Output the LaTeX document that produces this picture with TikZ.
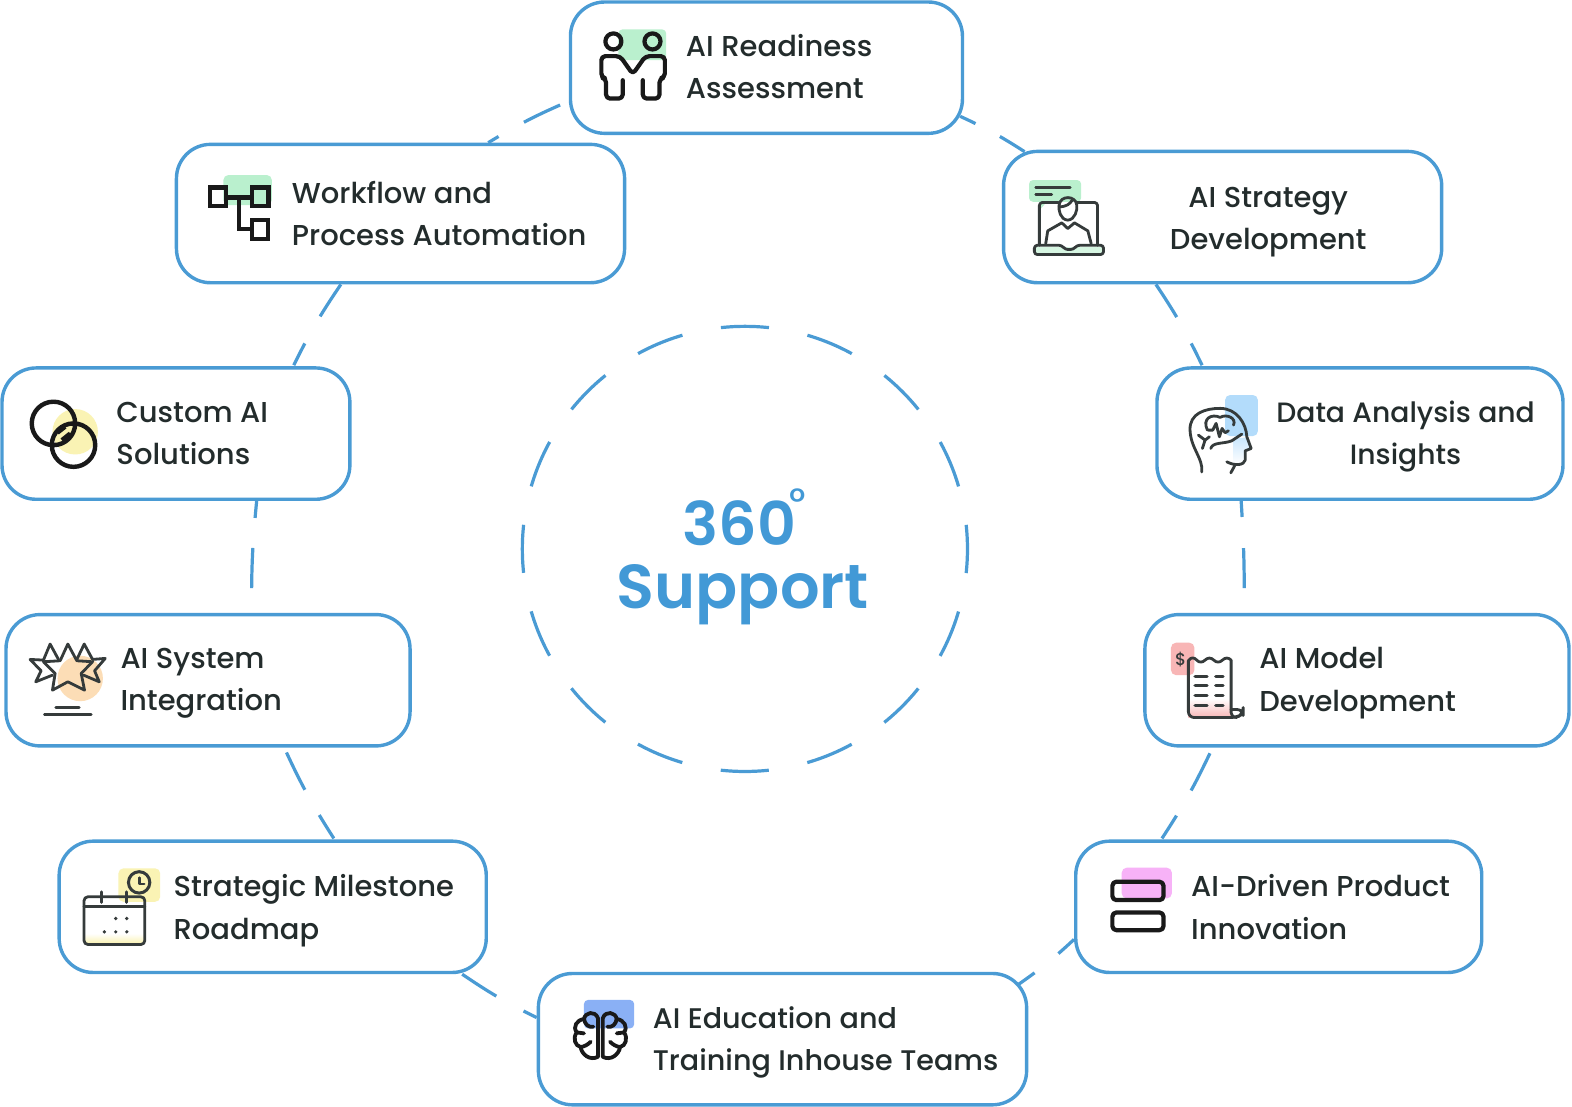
\documentclass[tikz,border=0pt]{standalone}
\usepackage{fontspec}
\setmainfont{Poppins}[UprightFont=* Medium,FakeStretch=1.008]
\newfontfamily\bigf{Poppins}[UprightFont=* SemiBold]
\usetikzlibrary{calc}
\definecolor{ringblue}{HTML}{4A9BD4}
\definecolor{headblue}{HTML}{4299D6}
\definecolor{ink}{HTML}{232C2C}
\definecolor{iconk}{HTML}{353B3B}
\definecolor{mint}{HTML}{BAF0CE}
\definecolor{sky}{HTML}{B3DCFB}
\definecolor{rose}{HTML}{F8B6B6}
\definecolor{peach}{HTML}{FCDDB6}
\definecolor{lemon}{HTML}{FAF3B4}
\definecolor{cobalt}{HTML}{8AB0F5}
\definecolor{orchid}{HTML}{F7B2F7}
\newcommand{\st}{\vphantom{Ayg}}
\tikzset{
  box/.style={draw=ringblue,line width=3.4pt,fill=white,rounded corners=34pt,minimum height=131pt,inner sep=0pt},
  conn/.style={draw=ringblue,line width=3.2pt},
  lbl/.style={font=\fontsize{28.7}{42}\selectfont,text=ink,inner sep=0pt,align=left,anchor=west},
  lblc/.style={font=\fontsize{28.7}{42}\selectfont,text=ink,inner sep=0pt,align=center},
  icon/.style={x=0.3333pt,y=-0.3333pt,line join=round,line cap=round},
  thinline/.style={draw=iconk,line width=2.8pt},
}
\begin{document}
\begin{tikzpicture}[x=1pt,y=-1pt]
\useasboundingbox (0,0) rectangle (1568,1104);
\node[box,minimum width=391pt] (n1) at (764.5,67.5) {};
\node[box,minimum width=437pt] (n2) at (1219.5,216.5) {};
\node[box,minimum width=405pt] (n3) at (1356.5,432.5) {};
\node[box,minimum width=423pt] (n4) at (1353.5,678.5) {};
\node[box,minimum width=405pt] (n5) at (1275.5,904.5) {};
\node[box,minimum width=487pt] (n6) at (780.5,1036.5) {};
\node[box,minimum width=426pt] (n7) at (272,904.5) {};
\node[box,minimum width=403pt] (n8) at (207.5,678.5) {};
\node[box,minimum width=347pt] (n9) at (175.5,432.5) {};
\node[box,minimum width=447pt,minimum height=138pt] (n10) at (399.5,213) {};
% connectors
\draw[conn,dash pattern=on 12pt off 29pt on 40pt off 40pt] ($(n10.north)+(87.5,0)$) to[bend left=4] ($(n1.west)+(0,33.5)$);
\draw[conn,dash pattern=on 17pt off 27.5pt on 40pt off 9pt] ($(n1.east)+(-4,48.5)$) to[bend left=4] ($(n2.north)+(-197.5,2)$);
\draw[conn,dash pattern=on 38.6pt off 30pt on 40pt off 9pt] ($(n2.south)+(-66.5,0)$) to[bend left=4] ($(n3.north)+(-157.5,-1)$);
\draw[conn,dash pattern=on 16pt off 31pt on 40pt off 40pt] ($(n3.south)+(-118.5,0)$) to[bend left=2] ($(n4.north)+(-112.5,0)$);
\draw[conn,dash pattern=on 27pt off 29pt on 41.6pt off 40pt] ($(n5.north)+(-116.5,-1)$) to[bend right=4] ($(n4.south)+(-144,0)$);
\draw[conn,dash pattern=on 20pt off 30.6pt on 40pt off 9pt] ($(n6.east)+(-10,-54.5)$) to[bend right=4] ($(n5.west)+(0,32.5)$);
\draw[conn,dash pattern=on 40.5pt off 30.9pt on 40pt off 9pt] ($(n7.south)+(189,0)$) to[bend right=4] ($(n6.west)+(0,-21.5)$);
\draw[conn,dash pattern=on 27.5pt off 29pt on 41.5pt off 40pt] ($(n7.north)+(61,-1)$) to[bend left=4] ($(n8.south)+(76,0)$);
\draw[conn,dash pattern=on 17pt off 30pt on 40pt off 40pt] ($(n9.south)+(80.5,0)$) to[bend right=3] ($(n8.north)+(43.5,0)$);
\draw[conn,dash pattern=on 38pt off 31pt on 40pt off 9pt] ($(n10.south)+(-59.5,0)$) to[bend right=4] ($(n9.north)+(117.5,-1)$);
% central ring
\node[circle,draw=ringblue,line width=3.2pt,minimum size=444pt,inner sep=0pt,dash pattern=on 48pt off 39.18pt,dash phase=24pt] (ring) at (743,547.5) {};
\node[font=\bigf\fontsize{62}{63}\selectfont,text=headblue,inner sep=0pt,align=center] (core) at (741,561) {{\fontsize{60}{63}\selectfont\hspace*{-7pt}360}\\Support};
\node[font=\fontsize{38}{38}\selectfont,text=headblue,inner sep=0pt] (deg) at (796,501) {°};
% labels
\node[lbl] (t1) at (684,70.5) {\st AI Readiness\\\st Assessment};
\node[lblc] (t2) at (1265,221.5) {\st AI Strategy\\\st Development};
\node[lblc,font=\fontsize{27.9}{42}\selectfont] (t3) at (1402,435.5) {\st Data Analysis and\\\st Insights};
\node[lbl] (t4) at (1256,681.5) {\st AI Model\\\st Development};
\node[lbl] (t5) at (1188,908.5) {\st AI-Driven Product\\\st Innovation};
\node[lbl,font=\fontsize{28.3}{42}\selectfont] (t6) at (651,1040) {\st AI Education and\\\st Training Inhouse Teams};
\node[lbl] (t7) at (173,908.5) {\st Strategic Milestone\\\st Roadmap};
\node[lbl] (t8) at (120,681.5) {\st AI System\\\st Integration};
\node[lbl] (t9) at (116,436) {\st Custom AI\\\st Solutions};
\node[lbl] (t10) at (291,216.5) {\st Workflow and\\\st Process Automation};
% icon 1: people
\begin{scope}[shift={(568.5,0)},icon]
\fill[mint,rounded corners=4pt] (145,88) rectangle (288,180);
\draw[black!90,line width=4.2pt] (130,124) circle[radius=24] (247,124) circle[radius=24];
\draw[black!90,line width=4.2pt,rounded corners=4pt] (158,240)--(158,295)--(108,295)--(108,235)--(94,232)--(94,168)--(150,168)--(188,222)--(226,168)--(284,168)--(284,232)--(268,235)--(268,295)--(218,295)--(218,240);
\end{scope}
% icon 2: laptop
\begin{scope}[shift={(1002.4,159.6)},icon]
\fill[mint,rounded corners=4pt] (72,60) rectangle (228,125);
\fill[mint] (105,125)--(125,125)--(108,145)--cycle;
\draw[thinline] (92,82)--(195,82) (92,102)--(140,102);
\fill[mint!60] (92,260) rectangle (291,278);
\draw[thinline,rounded corners=3pt] (103,255)--(103,127)--(160,127) (215,127)--(277,127)--(277,255);
\draw[thinline,rounded corners=3pt] (88,255)--(170,255)--(180,268)--(205,268)--(215,255)--(295,255)--(295,283)--(88,283)--cycle;
\draw[thinline] (188,180) .. controls (165,178) and (160,150) .. (162,135) .. controls (165,105) and (212,105) .. (215,135) .. controls (217,150) and (210,178) .. (188,180);
\draw[thinline] (162,140) .. controls (185,140) and (195,130) .. (200,122);
\draw[thinline] (122,250)--(128,212)--(170,188)--(188,205)--(208,188)--(248,212)--(258,250);
\end{scope}
% icon 3: head
\begin{scope}[shift={(1167,379)},icon]
\fill[sky,rounded corners=5pt] (165,45) rectangle (263,168);
\shade[top color=sky!70,bottom color=white,draw=none] (190,175) -- (230,172) -- (240,205) -- (225,212) -- (225,240) -- (190,252) -- cycle;
\draw[thinline] (95,275) .. controls (100,235) and (62,205) .. (60,150) .. controls (58,100) and (105,85) .. (150,85) .. controls (200,85) and (228,130) .. (230,170) -- (243,205) -- (225,212) -- (225,240) .. controls (222,255) and (195,258) .. (170,245);
\draw[thinline] (195,254)--(182,278);
\draw[thinline] (112,150) .. controls (95,115) and (125,100) .. (150,112) .. controls (170,100) and (200,115) .. (190,135);
\draw[thinline] (115,150)--(128,150)--(138,130)--(148,170)--(156,145)--(165,158)--(175,152);
\draw[thinline] (122,205) .. controls (128,185) and (160,192) .. (185,182) -- (215,162);
\draw[thinline] (85,165)--(105,180)--(97,205) (105,180)--(118,170);
\end{scope}
% icon 4: receipt
\begin{scope}[shift={(1152,628.4)},icon]
\fill[rose,rounded corners=5pt] (48,38) rectangle (118,135);
\shade[top color=white,bottom color=rose] (100,205) rectangle (228,262);
\fill[white] (232,240) rectangle (258,258);
\draw[thinline,line join=round] (100,92) .. controls (108,80) and (118,82) .. (125,90) .. controls (132,98) and (142,98) .. (150,90) .. controls (158,82) and (168,82) .. (176,90) .. controls (184,98) and (194,98) .. (202,90) .. controls (210,82) and (220,82) .. (228,90) -- (228,238);
\draw[thinline,rounded corners=6pt] (100,92)--(100,262)--(245,262)--(264,250)--(264,238)--(228,238);
\draw[thinline] (228,238) .. controls (226,252) and (232,262) .. (245,262);
\draw[thinline,line width=3.2pt] (120,138)--(156,138) (182,138)--(204,138) (120,167)--(156,167) (182,167)--(204,167) (120,196)--(156,196) (182,196)--(204,196) (120,225)--(156,225) (182,225)--(204,225);
\node[font=\fontsize{17}{17}\selectfont,text=iconk,inner sep=0pt] (dollar) at (77,88) {\$};
\end{scope}
% icon 5: stars
\begin{scope}[shift={(15,628.4)},icon]
\fill[peach] (195,145) circle[radius=68];
\draw[thinline] (130,88)--(105,42)--(85,90)--(45,88)--(78,122)--(62,155)--(112,135);
\draw[thinline] (185,88)--(207,42)--(232,88)--(270,85)--(238,122)--(252,155)--(205,135);
\draw[thinline] (158,42)--(185,92)--(232,95)--(198,130)--(208,180)--(158,155)--(112,180)--(120,130)--(85,95)--(135,92)--cycle;
\draw[thinline] (122,232)--(192,232) (88,252)--(228,252);
\end{scope}
% icon 6: calendar
\begin{scope}[shift={(69.8,852.8)},icon]
\fill[lemon,rounded corners=5pt] (145,40) rectangle (270,140);
\shade[top color=white,bottom color=lemon] (46,235) rectangle (220,264);
\draw[thinline,rounded corners=4pt] (42,125) rectangle (224,268);
\draw[thinline] (42,155)--(224,155) (95,110)--(95,142) (170,110)--(170,142);
\draw[iconk,line width=3pt] (207,82) circle[radius=32];
\draw[iconk,line width=2.8pt] (207,68)--(207,87)--(222,87);
\fill[iconk] (137,190) circle[radius=5.5] (170,190) circle[radius=5.5] (103,230) circle[radius=5.5] (137,230) circle[radius=5.5] (170,230) circle[radius=5.5];
\end{scope}
% icon 7: brain
\begin{scope}[shift={(558.5,982.4)},icon]
\fill[cobalt,rounded corners=4pt] (72,45) rectangle (222,130);
\draw[black!90,line width=3.8pt] (114,100) .. controls (105,75) and (75,82) .. (72,102) .. controls (50,105) and (38,125) .. (50,142) .. controls (38,160) and (45,182) .. (62,186) .. controls (65,208) and (90,228) .. (114,215) -- cycle;
\draw[black!90,line width=3.8pt] (128,100) .. controls (137,75) and (167,82) .. (170,102) .. controls (192,105) and (204,125) .. (192,142) .. controls (204,160) and (197,182) .. (180,186) .. controls (177,208) and (152,228) .. (128,215) -- cycle;
\draw[black!90,line width=3.8pt] (72,102) .. controls (75,118) and (85,128) .. (100,125) (170,102) .. controls (167,118) and (157,128) .. (142,125) (50,142)--(72,145) (192,142)--(170,145) (62,186) .. controls (72,185) and (85,178) .. (92,170) (180,186) .. controls (170,185) and (157,178) .. (150,170);
\end{scope}
% icon 8: circles
\begin{scope}[shift={(20,389)},icon]
\fill[lemon] (165,125) circle[radius=68];
\draw[black!90,line width=4.4pt] (100,100) circle[radius=65] (160,165) circle[radius=65];
\draw[black!90,line width=4.2pt,line cap=butt] (112,128)--(135,110) (125,150)--(150,130);
\end{scope}
% icon 9: product
\begin{scope}[shift={(1092.2,852.8)},icon]
\fill[orchid,rounded corners=5pt] (80,38) rectangle (230,130);
\draw[black!90,line width=4.2pt,rounded corners=4pt] (52,80) rectangle (205,135) (52,172) rectangle (205,225);
\end{scope}
% icon 10: workflow
\begin{scope}[shift={(194.5,164.6)},icon]
\fill[mint,rounded corners=5pt] (85,30) rectangle (230,120);
\draw[black!90,line width=4.2pt,line cap=butt,line join=miter] (45,67) rectangle (93,122) (170,67) rectangle (220,122) (170,165) rectangle (218,222) (93,97)--(170,97) (132,97)--(132,192)--(170,192);
\end{scope}
\end{tikzpicture}
\end{document}
